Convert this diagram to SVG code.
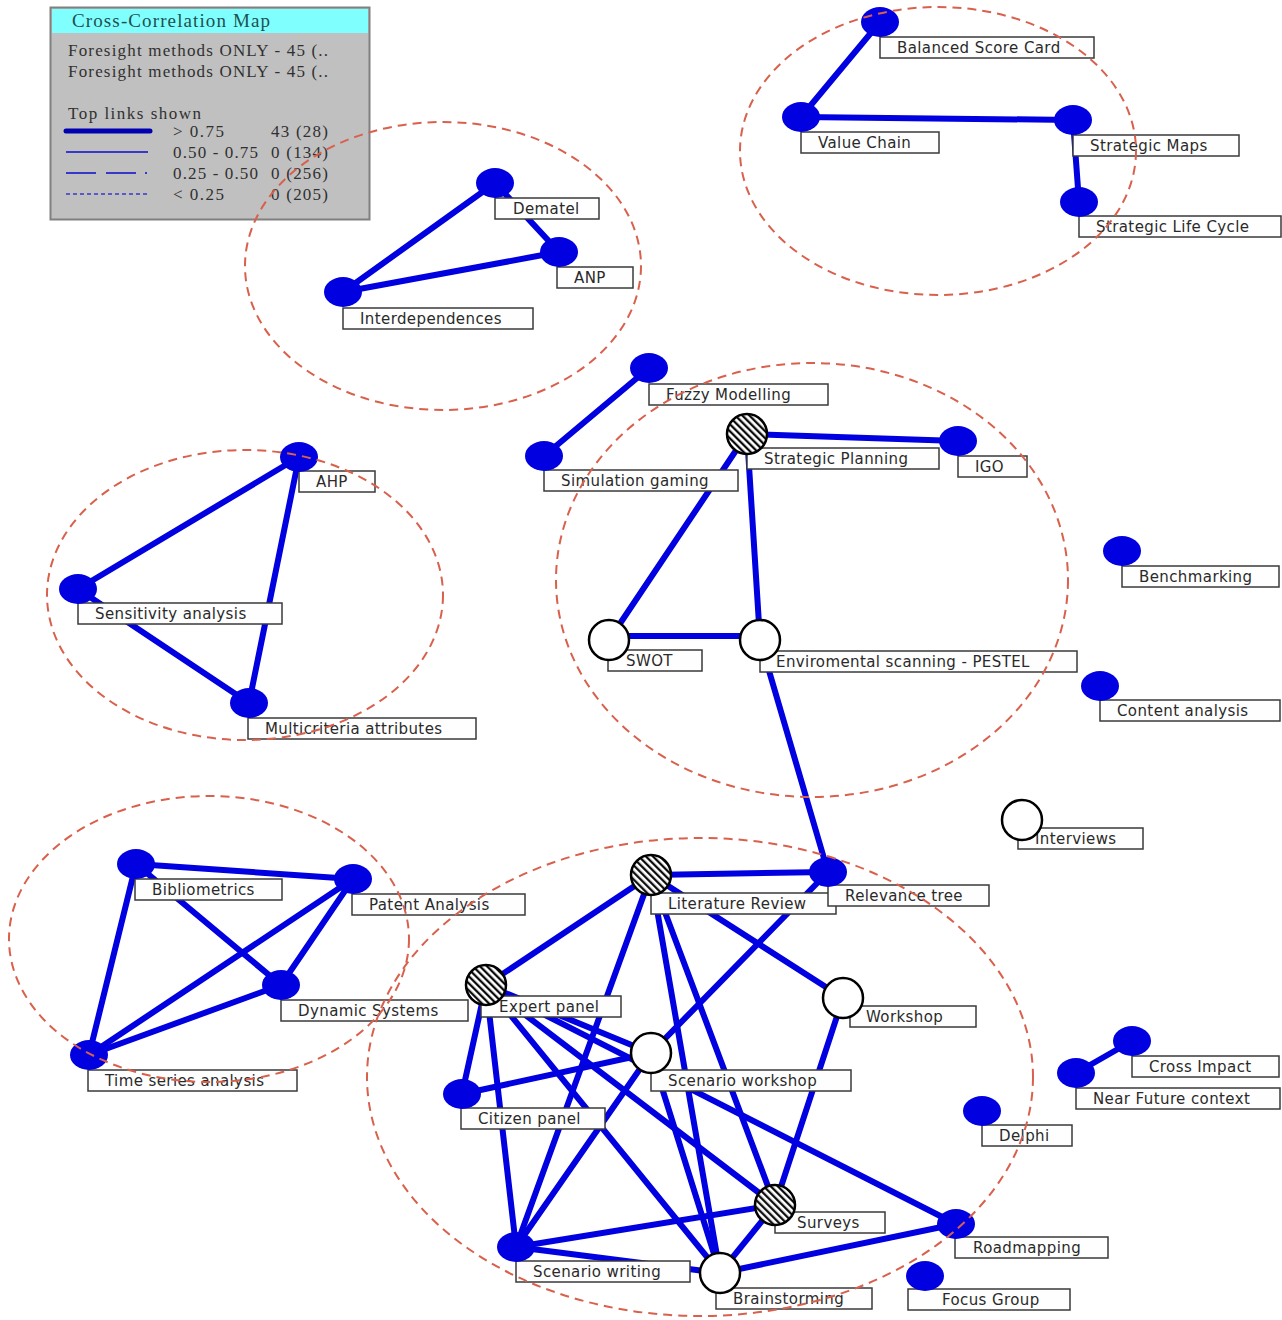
<svg xmlns="http://www.w3.org/2000/svg" width="1282" height="1320" viewBox="0 0 1282 1320">
<defs>
<pattern id="hatch" patternUnits="userSpaceOnUse" width="5" height="5" patternTransform="rotate(-45)">
<rect width="5" height="5" fill="#fff"/>
<line x1="1.2" y1="0" x2="1.2" y2="5" stroke="#000" stroke-width="2.2"/>
</pattern>
<style>
.e{stroke:#0000e0;stroke-width:6;stroke-linecap:round;fill:none}
.b{fill:#fefefe;stroke:#3a3a3a;stroke-width:1.5}
.t{font-family:"DejaVu Sans",sans-serif;font-size:15px;letter-spacing:0.4px;fill:#2a2a2a}
.f{fill:#0000e0}
.w{fill:#fff;stroke:#000;stroke-width:2.5}
.h{fill:url(#hatch);stroke:#000;stroke-width:2.5}
.c{fill:none;stroke:#d9604c;stroke-width:2;stroke-dasharray:9 6}
.lg{font-family:"Liberation Serif",serif;font-size:17px;fill:#303030}
</style>
</defs>
<rect width="1282" height="1320" fill="#fff"/>

<g id="legend">
<rect x="50.5" y="7.5" width="319" height="212" fill="#c0c0c0" stroke="#808080" stroke-width="2"/>
<rect x="52" y="9" width="316" height="24" fill="#80ffff"/>
<text x="72" y="27" font-family="Liberation Serif, serif" font-size="19" fill="#1f5050" textLength="198" lengthAdjust="spacing">Cross-Correlation Map</text>
<text class="lg" x="68" y="56" textLength="260" lengthAdjust="spacing">Foresight methods ONLY - 45 (..</text>
<text class="lg" x="68" y="77" textLength="260" lengthAdjust="spacing">Foresight methods ONLY - 45 (..</text>
<text class="lg" x="68" y="119" textLength="133" lengthAdjust="spacing">Top links shown</text>
<line x1="66" y1="131" x2="150" y2="131" stroke="#0000b0" stroke-width="5" stroke-linecap="round"/>
<line x1="66" y1="152" x2="148" y2="152" stroke="#3838c8" stroke-width="2"/>
<line x1="66" y1="173" x2="148" y2="173" stroke="#3838c8" stroke-width="2" stroke-dasharray="30 10 30 9 2 20"/>
<line x1="66" y1="194" x2="148" y2="194" stroke="#3838c8" stroke-width="1.5" stroke-dasharray="4 3"/>
<text class="lg" x="173" y="137" textLength="51" lengthAdjust="spacing">&gt; 0.75</text>
<text class="lg" x="271" y="137" textLength="57" lengthAdjust="spacing">43 (28)</text>
<text class="lg" x="173" y="158" textLength="85" lengthAdjust="spacing">0.50 - 0.75</text>
<text class="lg" x="271" y="158" textLength="57" lengthAdjust="spacing">0 (134)</text>
<text class="lg" x="173" y="179" textLength="85" lengthAdjust="spacing">0.25 - 0.50</text>
<text class="lg" x="271" y="179" textLength="57" lengthAdjust="spacing">0 (256)</text>
<text class="lg" x="173" y="200" textLength="51" lengthAdjust="spacing">&lt; 0.25</text>
<text class="lg" x="271" y="200" textLength="57" lengthAdjust="spacing">0 (205)</text>
</g>

<g id="connectors">
<line class="e" x1="880" y1="22" x2="801" y2="117"/>
<line class="e" x1="801" y1="117" x2="1073" y2="120"/>
<line class="e" x1="1073" y1="120" x2="1079" y2="202"/>
<line class="e" x1="495" y1="183" x2="343" y2="292"/>
<line class="e" x1="495" y1="183" x2="559" y2="252"/>
<line class="e" x1="559" y1="252" x2="343" y2="292"/>
<line class="e" x1="649" y1="368" x2="544" y2="456"/>
<line class="e" x1="747" y1="434" x2="958" y2="441"/>
<line class="e" x1="747" y1="434" x2="609" y2="640"/>
<line class="e" x1="747" y1="434" x2="760" y2="640"/>
<line class="e" x1="609" y1="636" x2="760" y2="636"/>
<line class="e" x1="760" y1="640" x2="828" y2="872"/>
<line class="e" x1="299" y1="457" x2="78" y2="589"/>
<line class="e" x1="299" y1="457" x2="249" y2="703"/>
<line class="e" x1="78" y1="589" x2="249" y2="703"/>
<line class="e" x1="136" y1="864" x2="353" y2="879"/>
<line class="e" x1="136" y1="864" x2="281" y2="985"/>
<line class="e" x1="136" y1="864" x2="89" y2="1055"/>
<line class="e" x1="353" y1="879" x2="89" y2="1055"/>
<line class="e" x1="353" y1="879" x2="281" y2="985"/>
<line class="e" x1="281" y1="985" x2="89" y2="1055"/>
<line class="e" x1="1132" y1="1041" x2="1076" y2="1073"/>
<line class="e" x1="651" y1="875" x2="828" y2="872"/>
<line class="e" x1="651" y1="875" x2="486" y2="985"/>
<line class="e" x1="651" y1="875" x2="843" y2="998"/>
<line class="e" x1="828" y1="872" x2="651" y2="1053"/>
<line class="e" x1="651" y1="875" x2="516" y2="1247"/>
<line class="e" x1="651" y1="875" x2="720" y2="1273"/>
<line class="e" x1="651" y1="875" x2="775" y2="1205"/>
<line class="e" x1="486" y1="985" x2="462" y2="1094"/>
<line class="e" x1="486" y1="985" x2="516" y2="1247"/>
<line class="e" x1="486" y1="985" x2="651" y2="1053"/>
<line class="e" x1="486" y1="985" x2="775" y2="1205"/>
<line class="e" x1="486" y1="985" x2="720" y2="1273"/>
<line class="e" x1="486" y1="985" x2="956" y2="1224"/>
<line class="e" x1="462" y1="1094" x2="651" y2="1053"/>
<line class="e" x1="651" y1="1053" x2="516" y2="1247"/>
<line class="e" x1="651" y1="1053" x2="720" y2="1273"/>
<line class="e" x1="843" y1="998" x2="775" y2="1205"/>
<line class="e" x1="516" y1="1247" x2="775" y2="1205"/>
<line class="e" x1="516" y1="1247" x2="720" y2="1273"/>
<line class="e" x1="720" y1="1273" x2="775" y2="1205"/>
<line class="e" x1="720" y1="1273" x2="956" y2="1224"/>
</g>

<g id="n-bsc"><rect class="b" x="880" y="37" width="214" height="21"/><text class="t" x="897" y="53">Balanced Score Card</text><ellipse class="f" cx="880" cy="22" rx="19" ry="15"/></g>
<g id="n-vc"><rect class="b" x="801" y="132" width="138" height="21"/><text class="t" x="818" y="148">Value Chain</text><ellipse class="f" cx="801" cy="117" rx="19" ry="15"/></g>
<g id="n-sm"><rect class="b" x="1073" y="135" width="166" height="21"/><text class="t" x="1090" y="151">Strategic Maps</text><ellipse class="f" cx="1073" cy="120" rx="19" ry="15"/></g>
<g id="n-slc"><rect class="b" x="1079" y="216" width="202" height="21"/><text class="t" x="1096" y="232">Strategic Life Cycle</text><ellipse class="f" cx="1079" cy="202" rx="19" ry="15"/></g>
<g id="n-dematel"><rect class="b" x="495" y="198" width="104" height="21"/><text class="t" x="513" y="214">Dematel</text><ellipse class="f" cx="495" cy="183" rx="19" ry="15"/></g>
<g id="n-anp"><rect class="b" x="557" y="267" width="76" height="21"/><text class="t" x="574" y="283">ANP</text><ellipse class="f" cx="559" cy="252" rx="19" ry="15"/></g>
<g id="n-interdep"><rect class="b" x="343" y="308" width="190" height="21"/><text class="t" x="360" y="324">Interdependences</text><ellipse class="f" cx="343" cy="292" rx="19" ry="15"/></g>
<g id="n-fuzzy"><rect class="b" x="649" y="384" width="179" height="21"/><text class="t" x="666" y="400">Fuzzy Modelling</text><ellipse class="f" cx="649" cy="368" rx="19" ry="15"/></g>
<g id="n-simgaming"><rect class="b" x="544" y="470" width="194" height="21"/><text class="t" x="561" y="486">Simulation gaming</text><ellipse class="f" cx="544" cy="456" rx="19" ry="15"/></g>
<g id="n-stratplan"><rect class="b" x="747" y="448" width="192" height="21"/><text class="t" x="764" y="464">Strategic Planning</text><circle class="h" cx="747" cy="434" r="20"/></g>
<g id="n-igo"><rect class="b" x="958" y="456" width="69" height="21"/><text class="t" x="975" y="472">IGO</text><ellipse class="f" cx="958" cy="441" rx="19" ry="15"/></g>
<g id="n-swot"><rect class="b" x="608" y="650" width="94" height="21"/><text class="t" x="626" y="666">SWOT</text><circle class="w" cx="609" cy="640" r="20"/></g>
<g id="n-pestel"><rect class="b" x="760" y="651" width="317" height="21"/><text class="t" x="776" y="667">Enviromental scanning - PESTEL</text><circle class="w" cx="760" cy="640" r="20"/></g>
<g id="n-bench"><rect class="b" x="1122" y="566" width="157" height="21"/><text class="t" x="1139" y="582">Benchmarking</text><ellipse class="f" cx="1122" cy="551" rx="19" ry="15"/></g>
<g id="n-content"><rect class="b" x="1100" y="700" width="180" height="21"/><text class="t" x="1117" y="716">Content analysis</text><ellipse class="f" cx="1100" cy="686" rx="19" ry="15"/></g>
<g id="n-ahp"><rect class="b" x="299" y="471" width="76" height="21"/><text class="t" x="316" y="487">AHP</text><ellipse class="f" cx="299" cy="457" rx="19" ry="15"/></g>
<g id="n-sens"><rect class="b" x="78" y="603" width="204" height="21"/><text class="t" x="95" y="619">Sensitivity analysis</text><ellipse class="f" cx="78" cy="589" rx="19" ry="15"/></g>
<g id="n-multi"><rect class="b" x="248" y="718" width="228" height="21"/><text class="t" x="265" y="734">Multicriteria attributes</text><ellipse class="f" cx="249" cy="703" rx="19" ry="15"/></g>
<g id="n-interviews"><rect class="b" x="1018" y="828" width="125" height="21"/><text class="t" x="1035" y="844">Interviews</text><circle class="w" cx="1022" cy="820" r="20"/></g>
<g id="n-biblio"><rect class="b" x="135" y="879" width="147" height="21"/><text class="t" x="152" y="895">Bibliometrics</text><ellipse class="f" cx="136" cy="864" rx="19" ry="15"/></g>
<g id="n-patent"><rect class="b" x="352" y="894" width="173" height="21"/><text class="t" x="369" y="910">Patent Analysis</text><ellipse class="f" cx="353" cy="879" rx="19" ry="15"/></g>
<g id="n-dynsys"><rect class="b" x="281" y="1000" width="187" height="21"/><text class="t" x="298" y="1016">Dynamic Systems</text><ellipse class="f" cx="281" cy="985" rx="19" ry="15"/></g>
<g id="n-timeseries"><rect class="b" x="88" y="1070" width="209" height="21"/><text class="t" x="105" y="1086">Time series analysis</text><ellipse class="f" cx="89" cy="1055" rx="19" ry="15"/></g>
<g id="n-litreview"><rect class="b" x="651" y="893" width="185" height="21"/><text class="t" x="668" y="909">Literature Review</text><circle class="h" cx="651" cy="875" r="20"/></g>
<g id="n-reltree"><rect class="b" x="828" y="885" width="161" height="21"/><text class="t" x="845" y="901">Relevance tree</text><ellipse class="f" cx="828" cy="872" rx="19" ry="15"/></g>
<g id="n-expert"><rect class="b" x="481" y="996" width="140" height="21"/><text class="t" x="499" y="1012">Expert panel</text><circle class="h" cx="486" cy="985" r="20"/></g>
<g id="n-workshop"><rect class="b" x="850" y="1006" width="126" height="21"/><text class="t" x="866" y="1022">Workshop</text><circle class="w" cx="843" cy="998" r="20"/></g>
<g id="n-scenworkshop"><rect class="b" x="651" y="1070" width="200" height="21"/><text class="t" x="668" y="1086">Scenario workshop</text><circle class="w" cx="651" cy="1053" r="20"/></g>
<g id="n-citizen"><rect class="b" x="461" y="1108" width="144" height="21"/><text class="t" x="478" y="1124">Citizen panel</text><ellipse class="f" cx="462" cy="1094" rx="19" ry="15"/></g>
<g id="n-crossimpact"><rect class="b" x="1132" y="1056" width="147" height="21"/><text class="t" x="1149" y="1072">Cross Impact</text><ellipse class="f" cx="1132" cy="1041" rx="19" ry="15"/></g>
<g id="n-nearfuture"><rect class="b" x="1076" y="1088" width="204" height="21"/><text class="t" x="1093" y="1104">Near Future context</text><ellipse class="f" cx="1076" cy="1073" rx="19" ry="15"/></g>
<g id="n-delphi"><rect class="b" x="982" y="1125" width="90" height="21"/><text class="t" x="999" y="1141">Delphi</text><ellipse class="f" cx="982" cy="1111" rx="19" ry="15"/></g>
<g id="n-surveys"><rect class="b" x="775" y="1212" width="110" height="21"/><text class="t" x="797" y="1228">Surveys</text><circle class="h" cx="775" cy="1205" r="20"/></g>
<g id="n-roadmap"><rect class="b" x="955" y="1237" width="153" height="21"/><text class="t" x="973" y="1253">Roadmapping</text><ellipse class="f" cx="956" cy="1224" rx="19" ry="15"/></g>
<g id="n-scenwriting"><rect class="b" x="516" y="1261" width="174" height="21"/><text class="t" x="533" y="1277">Scenario writing</text><ellipse class="f" cx="516" cy="1247" rx="19" ry="15"/></g>
<g id="n-brainstorm"><rect class="b" x="716" y="1288" width="156" height="21"/><text class="t" x="733" y="1304">Brainstorming</text><circle class="w" cx="720" cy="1273" r="20"/></g>
<g id="n-focus"><rect class="b" x="908" y="1289" width="162" height="21"/><text class="t" x="942" y="1305">Focus Group</text><ellipse class="f" cx="925" cy="1276" rx="19" ry="15"/></g>

<g id="clusters">
<ellipse class="c" cx="938" cy="151" rx="198" ry="144"/>
<ellipse class="c" cx="443" cy="266" rx="198" ry="144"/>
<ellipse class="c" cx="245" cy="595" rx="198" ry="145"/>
<ellipse class="c" cx="812" cy="580" rx="256" ry="217"/>
<ellipse class="c" cx="209" cy="939" rx="200" ry="143"/>
<ellipse class="c" cx="700" cy="1077" rx="333" ry="239"/>
</g>
</svg>
